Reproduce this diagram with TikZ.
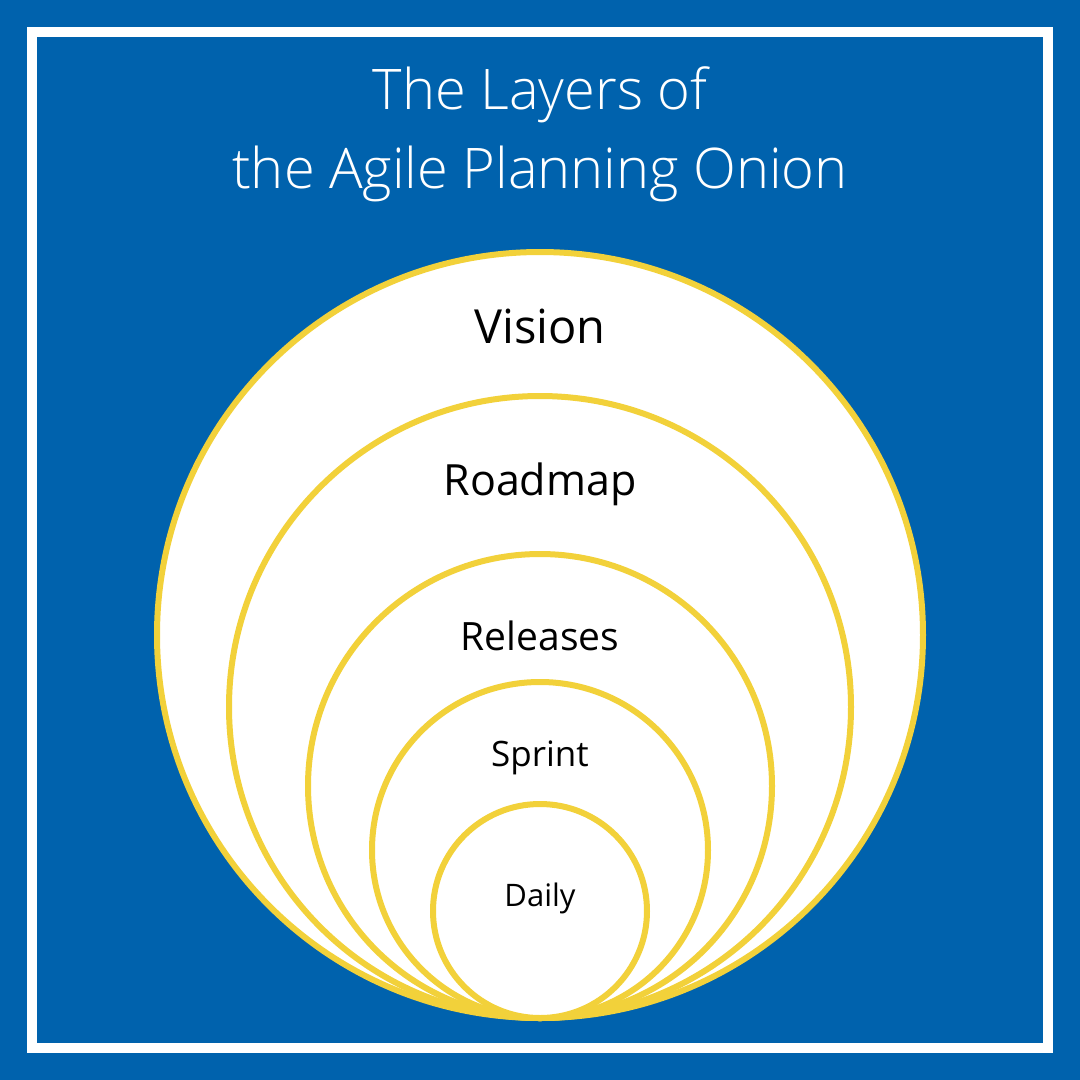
\documentclass[tikz,border=0pt]{standalone}
\usepackage{fontspec}
\setmainfont{Open Sans}
\newfontfamily\lightfont{Open Sans Light}
\definecolor{onionblue}{HTML}{0062AD}
\definecolor{onionyellow}{HTML}{F2D13A}
\tikzset{
	layer/.style={draw=onionyellow,fill=white,line width=6pt},
	tag/.style={text=black,anchor=center}
}
\begin{document}
\begin{tikzpicture}[x=1pt,y=-1pt]
	\fill[onionblue] (0,0) rectangle (1080,1080);
	\draw[white,line width=10pt] (32,32) rectangle (1048,1048);
	\node[text=white,align=center,font=\fontsize{56}{79}\selectfont\lightfont] (title) at (540,134) {The Layers of\\the Agile Planning Onion};
	% layers, outermost first
	\foreach \r/\name in {383/vision,311/roadmap,232/releases,168/sprint,107/daily}{
		\draw[layer] (540,1018-\r) circle (\r);
	}
	\node[tag,font=\fontsize{47}{47}\selectfont] (vision) at (540,326) {Vision};
	\node[tag,font=\fontsize{43}{43}\selectfont] (roadmap) at (540,484) {Roadmap};
	\node[tag,font=\fontsize{39}{39}\selectfont] (releases) at (540,636) {Releases};
	\node[tag,font=\fontsize{35}{35}\selectfont] (sprint) at (540,758) {Sprint};
	\node[tag,font=\fontsize{31}{31}\selectfont] (daily) at (540,898) {Daily};
\end{tikzpicture}
\end{document}
